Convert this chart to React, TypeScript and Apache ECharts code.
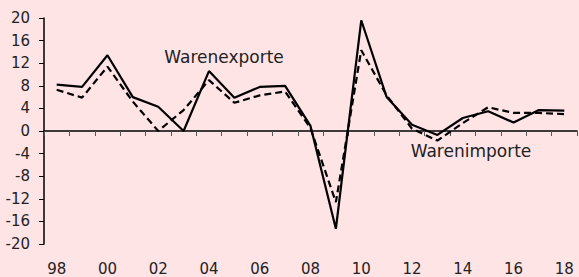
import React, { useEffect, useRef } from "react";
import * as echarts from "echarts";

const years = [
  "98", "99", "00", "01", "02", "03", "04", "05", "06", "07", "08",
  "09", "10", "11", "12", "13", "14", "15", "16", "17", "18",
];
const exportsSeries = [
  8.2, 7.8, 13.4, 6.0, 4.3, 0.0, 10.6, 5.9, 7.8, 8.0, 0.9,
  -17.3, 19.6, 6.0, 1.1, -0.7, 2.3, 3.5, 1.5, 3.7, 3.6,
];
const importsSeries = [
  7.3, 5.9, 11.4, 5.2, 0.0, 3.7, 9.0, 5.0, 6.3, 7.0, 0.5,
  -12.6, 14.3, 6.3, 0.4, -1.7, 1.4, 4.2, 3.2, 3.2, 3.0,
];
const exportLabel = "Warenexporte";
const importLabel = "Warenimporte";

const BG = "#ffe4e6";
const FONT = "DejaVu Sans";

export default function App() {
  const ref = useRef<HTMLDivElement>(null);
  useEffect(() => {
    if (!ref.current) return;
    const chart = echarts.init(ref.current, undefined, { renderer: "svg" });
    chart.setOption({
      animation: false,
      backgroundColor: BG,
      grid: { left: 44, right: 2, top: 18, bottom: 33 },
      xAxis: [
        {
          type: "category",
          data: years,
          boundaryGap: true,
          axisLine: { onZero: true, lineStyle: { color: "#000", width: 1.5 } },
          axisTick: { show: true, interval: 0, length: 5, lineStyle: { color: "#555" } },
          axisLabel: { show: false },
          splitLine: { show: false },
        },
        {
          type: "category",
          data: years,
          position: "bottom",
          boundaryGap: true,
          axisLine: { show: false, onZero: false },
          axisTick: { show: false },
          axisLabel: {
            interval: 1,
            margin: 17,
            color: "#222",
            fontSize: 15,
            fontFamily: FONT,
          },
          splitLine: { show: false },
        },
      ],
      yAxis: {
        type: "value",
        min: -20,
        max: 20,
        interval: 4,
        axisLine: { show: true, lineStyle: { color: "#000", width: 1.5 } },
        axisTick: { show: true, length: 5, lineStyle: { color: "#000" } },
        axisLabel: { color: "#222", fontSize: 15, fontFamily: FONT, margin: 14 },
        splitLine: { show: false },
      },
      graphic: [
        {
          type: "text",
          x: 224,
          y: 57,
          style: {
            text: exportLabel,
            fontSize: 17,
            fontFamily: FONT,
            fill: "#222",
            align: "center",
            verticalAlign: "middle",
          },
        },
        {
          type: "text",
          x: 471,
          y: 151,
          style: {
            text: importLabel,
            fontSize: 17,
            fontFamily: FONT,
            fill: "#222",
            align: "center",
            verticalAlign: "middle",
          },
        },
      ],
      series: [
        {
          name: importLabel,
          type: "line",
          xAxisIndex: 0,
          data: importsSeries,
          showSymbol: false,
          lineStyle: { color: "#000", width: 2.2, type: [7, 4] },
        },
        {
          name: exportLabel,
          type: "line",
          xAxisIndex: 0,
          data: exportsSeries,
          showSymbol: false,
          lineStyle: { color: "#000", width: 2.2 },
        },
      ],
    });
    return () => chart.dispose();
  }, []);
  return (
    <div
      ref={ref}
      style={{ width: 579, height: 277, position: "absolute", left: 0, top: 0, background: BG }}
    />
  );
}
